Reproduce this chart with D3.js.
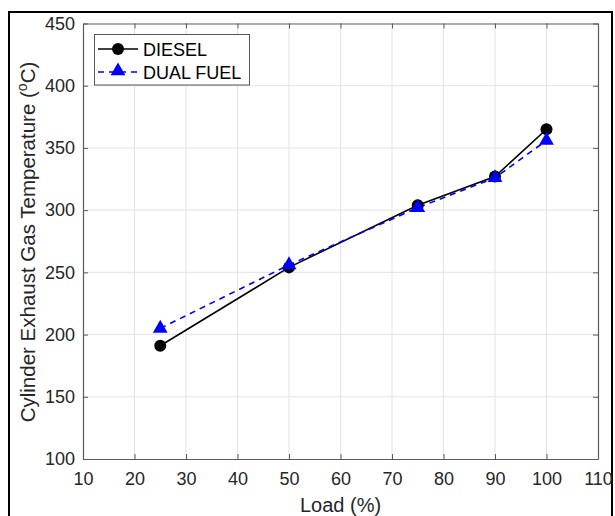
<!DOCTYPE html>
<html>
<head>
<meta charset="utf-8">
<script src="https://cdn.jsdelivr.net/npm/d3@7"></script>
<style>
  body { margin: 0; background: #fff; }
  text { font-family: "Liberation Sans", Arial, sans-serif; }
</style>
</head>
<body>
<div id="canvas"></div>
<script>
const loads = [25, 50, 75, 90, 100];
const diesel = [191, 254, 304, 327, 365];
const dualFuel = [205, 256, 302, 326, 356];
const xTicks = [10, 20, 30, 40, 50, 60, 70, 80, 90, 100, 110];
const yTicks = [100, 150, 200, 250, 300, 350, 400, 450];

const w = 615, h = 516;
const padL = 83, padR = 598, padT = 23.5, padB = 459;

const svg = d3.select('#canvas').append('svg').attr('width', w).attr('height', h);

// outer frame
svg.append('rect').attr('x', 9).attr('y', 12).attr('width', 603).attr('height', 510)
  .attr('fill', 'none').attr('stroke', '#000').attr('stroke-width', 2);

const x = d3.scaleLinear().domain([10, 110]).range([padL, padR]);
const y = d3.scaleLinear().domain([100, 450]).range([padB, padT]);

// grid
svg.append('g').selectAll('line').data(xTicks.slice(1, -1)).enter().append('line')
  .attr('x1', d => x(d)).attr('x2', d => x(d)).attr('y1', padT).attr('y2', padB)
  .attr('stroke', '#e3e3e3').attr('stroke-width', 1);
svg.append('g').selectAll('line').data(yTicks.slice(1, -1)).enter().append('line')
  .attr('y1', d => y(d)).attr('y2', d => y(d)).attr('x1', padL).attr('x2', padR)
  .attr('stroke', '#e3e3e3').attr('stroke-width', 1);

// axes (ticks inward, box)
const axisColor = '#5a5a5a';
const xAxis = d3.axisBottom(x).tickValues(xTicks).tickSize(-5).tickPadding(13).tickSizeOuter(0);
const gx = svg.append('g').attr('transform', 'translate(0,' + padB + ')').call(xAxis);
const xTop = svg.append('g').attr('transform', 'translate(0,' + padT + ')')
  .call(d3.axisTop(x).tickValues(xTicks).tickSize(-5).tickSizeOuter(0).tickFormat(''));
const yAxis = d3.axisLeft(y).tickValues(yTicks).tickSize(-5).tickPadding(8).tickSizeOuter(0);
const gy = svg.append('g').attr('transform', 'translate(' + padL + ',0)').call(yAxis);
const yRight = svg.append('g').attr('transform', 'translate(' + padR + ',0)')
  .call(d3.axisRight(y).tickValues(yTicks).tickSize(-5).tickSizeOuter(0).tickFormat(''));

[gx, xTop, gy, yRight].forEach(g => {
  g.select('.domain').attr('stroke', axisColor).attr('stroke-width', 1.2);
  g.selectAll('.tick line').attr('stroke', axisColor);
  g.selectAll('.tick text').attr('fill', '#262626').attr('font-size', 18)
    .attr('font-family', '"Liberation Sans", Arial, sans-serif');
});

// axis titles
svg.append('text').attr('x', (padL + padR) / 2).attr('y', 512)
  .attr('text-anchor', 'middle').attr('fill', '#262626').attr('font-size', 20)
  .text('Load (%)');
const yl = svg.append('text')
  .attr('transform', 'translate(35,242) rotate(-90)')
  .attr('text-anchor', 'middle').attr('fill', '#262626').attr('font-size', 20.5);
yl.append('tspan').text('Cylinder Exhaust Gas Temperature (');
yl.append('tspan').attr('dy', -8).attr('font-size', 14).text('o');
yl.append('tspan').attr('dy', 8).text('C)');

// lines
const line = d3.line().x(d => x(d[0])).y(d => y(d[1]));
const dData = loads.map((l, i) => [l, diesel[i]]);
const fData = loads.map((l, i) => [l, dualFuel[i]]);

svg.append('path').datum(dData).attr('d', line).attr('fill', 'none')
  .attr('stroke', '#000').attr('stroke-width', 1.6);
svg.append('path').datum(fData).attr('d', line).attr('fill', 'none')
  .attr('stroke', '#0000ff').attr('stroke-width', 1.6).attr('stroke-dasharray', '6,5');

const tri = d3.symbol().type(d3.symbolTriangle).size(95);

svg.append('g').selectAll('circle').data(dData).enter().append('circle')
  .attr('cx', d => x(d[0])).attr('cy', d => y(d[1])).attr('r', 6).attr('fill', '#000');
svg.append('g').selectAll('path').data(fData).enter().append('path')
  .attr('d', tri).attr('transform', d => 'translate(' + x(d[0]) + ',' + y(d[1]) + ')')
  .attr('fill', '#0000ff');

// legend
const lg = svg.append('g');
lg.append('rect').attr('x', 94.5).attr('y', 34.5).attr('width', 155).attr('height', 50.5)
  .attr('fill', '#fff').attr('stroke', '#555').attr('stroke-width', 1);
lg.append('line').attr('x1', 98).attr('x2', 138).attr('y1', 49).attr('y2', 49)
  .attr('stroke', '#000').attr('stroke-width', 1.6);
lg.append('circle').attr('cx', 118).attr('cy', 49).attr('r', 6).attr('fill', '#000');
lg.append('line').attr('x1', 98).attr('x2', 138).attr('y1', 72).attr('y2', 72)
  .attr('stroke', '#0000ff').attr('stroke-width', 1.6).attr('stroke-dasharray', '6,5');
lg.append('path').attr('d', tri).attr('transform', 'translate(118,71)').attr('fill', '#0000ff');
lg.append('text').attr('x', 143).attr('y', 56).attr('fill', '#000').attr('font-size', 18).text('DIESEL');
lg.append('text').attr('x', 143).attr('y', 79).attr('fill', '#000').attr('font-size', 18).text('DUAL FUEL');
</script>
</body>
</html>
